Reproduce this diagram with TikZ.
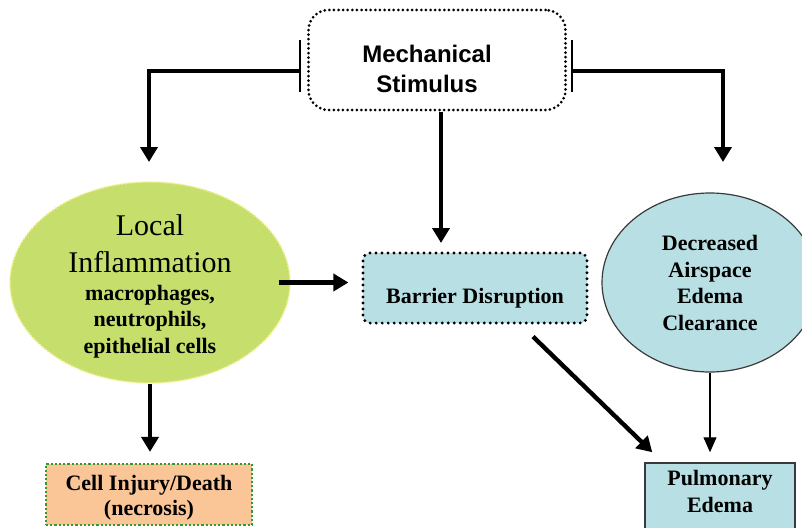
\documentclass[tikz,border=0pt]{standalone}
\usepackage{fontspec}
\setmainfont{Liberation Serif}
\setsansfont{Liberation Sans}
\usetikzlibrary{shapes.geometric,arrows.meta,calc}

\definecolor{leafgreen}{HTML}{C6DE6C}
\definecolor{paleyellow}{HTML}{F4F18C}
\definecolor{aquafill}{HTML}{B8DFE3}
\definecolor{peachfill}{HTML}{FAC597}
\definecolor{dotgreen}{HTML}{2F9A3A}
\definecolor{rimgray}{HTML}{3A3A3A}

\begin{document}
\begin{tikzpicture}[x=1pt,y=-1pt,
  thickarrow/.style={line width=4.4pt,-{Triangle[width=17pt,length=15pt]}},
  thinarrow/.style={line width=1.3pt,-{Triangle[width=13pt,length=15pt]}},
  stopbar/.style={line width=1.5pt},
  msbox/.style={draw=black,line width=3pt,line cap=round,dash pattern=on 0pt off 4.6pt,
    rounded corners=20pt,minimum width=257pt,minimum height=100pt,inner sep=0pt},
  barbox/.style={draw=black,fill=aquafill,line width=3.2pt,line cap=round,
    dash pattern=on 0pt off 6pt,rounded corners=7pt,inner sep=0pt},
  cellbox/.style={draw=dotgreen,fill=peachfill,line width=2.2pt,
    dash pattern=on 2.2pt off 2pt,inner sep=0pt},
  pulmbox/.style={draw=rimgray,fill=aquafill,line width=1.5pt,inner sep=0pt},
  boldtext/.style={font=\bfseries\fontsize{22}{26.7}\selectfont,align=center,inner sep=0pt},
]
\clip (0,0) rectangle (802,527);

% shapes
\node[msbox] (ms) at (437,60) {};
\node[font=\sffamily\bfseries\fontsize{24}{30}\selectfont,align=center,inner sep=0pt]
  (msT) at (427,69) {Mechanical\\Stimulus};

\node[ellipse,fill=leafgreen,draw=paleyellow,line width=1.6pt,dash pattern=on 1.6pt off 1.6pt,
  minimum width=280pt,minimum height=201pt,inner sep=0pt] (infl) at (150,282.5) {};
\node[font=\fontsize{30}{37}\selectfont,align=center,inner sep=0pt]
  (inflT) at (150,243.5) {Local\\Inflammation};
\node[boldtext] (inflS) at (150,321.5) {macrophages,\\neutrophils,\\epithelial cells};

\node[barbox,minimum width=224pt,minimum height=70pt] (bar) at (475,288) {};
\node[boldtext] (barT) at (475,298) {Barrier Disruption};

\node[ellipse,fill=aquafill,draw=rimgray,line width=1.2pt,
  minimum width=216pt,minimum height=179pt,inner sep=0pt] (dec) at (710,282.5) {};
\node[boldtext] (decT) at (710,283) {Decreased\\Airspace\\Edema\\Clearance};

\node[cellbox,minimum width=206pt,minimum height=61pt] (cell) at (149,494.5) {};
\node[boldtext,font=\bfseries\fontsize{22}{25}\selectfont] (cellT) at (149,497.5)
  {Cell Injury/Death\\(necrosis)};

\node[pulmbox,minimum width=150pt,minimum height=69pt] (pulm) at (720,497.5) {};
\node[boldtext,font=\bfseries\fontsize{22}{27}\selectfont] (pulmT) at (720,491)
  {Pulmonary\\Edema};

% branch points beside the stimulus box
\coordinate (barL) at (300,71);
\coordinate (barR) at (572,71);
\coordinate (dropL) at (149,162);
\coordinate (dropR) at (723,162);
\coordinate (dropC) at (441,243);

\draw[stopbar] ($(barL)+(0,-31)$) -- ($(barL)+(0,21)$);
\draw[stopbar] ($(barR)+(0,-31)$) -- ($(barR)+(0,21)$);

% connectors
\draw[thickarrow] (barL) -| (dropL);
\draw[thickarrow] (barR) -| (dropR);
\draw[thickarrow] (ms.south -| dropC) -- (dropC);
\draw[thickarrow,shorten >=13pt] ([xshift=-12pt]infl.east) -- (infl.east -| bar.west);
\draw[thickarrow] ($(bar.south)+(58,12)$) -- ($(pulm.north west)+(8,-10)$);
\draw[thickarrow,shorten >=11pt] (infl.south) -- (infl.south |- cell.north);
\draw[thinarrow,shorten >=10pt] (dec.south) -- (dec.south |- pulm.north);
\end{tikzpicture}
\end{document}
